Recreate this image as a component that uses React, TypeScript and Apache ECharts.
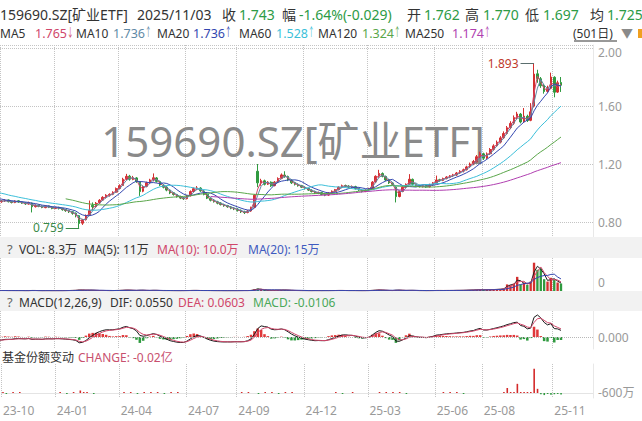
import React, { useEffect, useRef } from 'react';
import * as echarts from 'echarts';

// ---------- DATA (each candle = about 3 trading days), [open, close, low, high] ----------
const preCandles: number[][] = [
  [1.050, 1.060, 1.045, 1.068], [1.061, 1.050, 1.044, 1.066], [1.051, 1.070, 1.046, 1.076], [1.069, 1.040, 1.034, 1.074],
  [1.041, 1.030, 1.024, 1.046], [1.031, 1.050, 1.026, 1.056], [1.049, 1.020, 1.014, 1.054], [1.021, 1.010, 1.004, 1.026],
  [1.011, 1.030, 1.006, 1.036], [1.029, 1.000, 0.994, 1.034], [1.001, 0.990, 0.984, 1.006], [0.991, 1.010, 0.986, 1.016],
  [1.009, 0.980, 0.974, 1.014], [0.981, 0.970, 0.964, 0.986], [0.971, 0.990, 0.966, 0.996], [0.989, 0.960, 0.954, 0.994],
  [0.961, 0.950, 0.944, 0.966], [0.951, 0.970, 0.946, 0.976], [0.969, 0.950, 0.944, 0.974], [0.951, 0.940, 0.934, 0.956],
];

const candles: number[][] = [
  [0.940, 0.945, 0.932, 0.952], [0.946, 0.950, 0.938, 0.958], [0.952, 0.940, 0.935, 0.955], [0.941, 0.935, 0.928, 0.946],
  [0.934, 0.945, 0.930, 0.950], [0.946, 0.938, 0.932, 0.950], [0.937, 0.930, 0.925, 0.942], [0.931, 0.925, 0.918, 0.936],
  [0.924, 0.932, 0.920, 0.940], [0.930, 0.905, 0.866, 0.934], [0.906, 0.915, 0.900, 0.922], [0.916, 0.908, 0.902, 0.920],
  [0.909, 0.900, 0.895, 0.914], [0.899, 0.910, 0.895, 0.915], [0.911, 0.902, 0.896, 0.914], [0.903, 0.895, 0.888, 0.907],
  [0.894, 0.900, 0.889, 0.906], [0.901, 0.893, 0.886, 0.905], [0.894, 0.885, 0.878, 0.898], [0.886, 0.878, 0.870, 0.890],
  [0.879, 0.870, 0.862, 0.884], [0.871, 0.860, 0.850, 0.876], [0.861, 0.845, 0.832, 0.866], [0.844, 0.790, 0.759, 0.848],
  [0.792, 0.815, 0.780, 0.822], [0.816, 0.845, 0.810, 0.852], [0.850, 0.880, 0.842, 0.948], [0.915, 0.905, 0.880, 0.935],
  [0.906, 0.930, 0.900, 0.938], [0.931, 0.950, 0.925, 0.958], [0.951, 0.970, 0.945, 0.978], [0.971, 0.985, 0.962, 0.992],
  [0.986, 0.990, 0.975, 0.998], [0.991, 1.005, 0.985, 1.012], [1.006, 1.030, 1.000, 1.038], [1.031, 1.050, 1.025, 1.060],
  [1.052, 1.095, 1.048, 1.105], [1.096, 1.115, 1.088, 1.132], [1.116, 1.095, 1.085, 1.125], [1.094, 1.105, 1.088, 1.118],
  [1.104, 1.080, 1.070, 1.110], [1.078, 1.010, 0.980, 1.082], [1.012, 1.045, 1.005, 1.052], [1.046, 1.070, 1.040, 1.078],
  [1.071, 1.090, 1.062, 1.098], [1.091, 1.105, 1.080, 1.135], [1.104, 1.080, 1.072, 1.110], [1.079, 1.055, 1.048, 1.084],
  [1.054, 1.040, 1.032, 1.060], [1.041, 1.020, 1.012, 1.046], [1.019, 1.000, 0.992, 1.025], [1.001, 0.990, 0.982, 1.006],
  [0.989, 0.975, 0.968, 0.994], [0.976, 0.965, 0.958, 0.982], [0.964, 0.960, 0.952, 0.972], [0.961, 0.980, 0.956, 0.986],
  [0.981, 1.010, 0.976, 1.018], [1.011, 1.030, 1.004, 1.038], [1.031, 1.035, 1.022, 1.048], [1.034, 1.015, 1.008, 1.040],
  [1.014, 0.990, 0.984, 1.020], [0.991, 0.965, 0.958, 0.996], [0.964, 0.950, 0.942, 0.970], [0.951, 0.940, 0.934, 0.958],
  [0.939, 0.930, 0.922, 0.946], [0.931, 0.920, 0.914, 0.936], [0.919, 0.912, 0.905, 0.926], [0.913, 0.905, 0.898, 0.918],
  [0.904, 0.895, 0.888, 0.910], [0.896, 0.890, 0.882, 0.902], [0.889, 0.880, 0.872, 0.895], [0.881, 0.870, 0.862, 0.886],
  [0.869, 0.865, 0.855, 0.878], [0.866, 0.875, 0.860, 0.882], [0.876, 0.900, 0.870, 0.906], [0.902, 0.985, 0.898, 0.992],
  [1.150, 1.070, 1.040, 1.200], [1.068, 1.085, 1.050, 1.098], [1.084, 1.060, 1.052, 1.092], [1.061, 1.075, 1.055, 1.082],
  [1.074, 1.050, 1.042, 1.080], [1.051, 1.075, 1.046, 1.082], [1.076, 1.100, 1.070, 1.108], [1.101, 1.125, 1.095, 1.135],
  [1.124, 1.115, 1.105, 1.150], [1.114, 1.090, 1.082, 1.120], [1.089, 1.070, 1.062, 1.094], [1.071, 1.060, 1.052, 1.076],
  [1.059, 1.050, 1.044, 1.066], [1.051, 1.040, 1.034, 1.056], [1.039, 1.030, 1.024, 1.046], [1.031, 1.020, 1.014, 1.036],
  [1.019, 1.010, 1.004, 1.026], [1.011, 1.000, 0.993, 1.016], [0.999, 1.002, 0.992, 1.010], [1.003, 0.990, 0.984, 1.008],
  [0.989, 0.985, 0.978, 0.996], [0.986, 1.000, 0.980, 1.006], [1.001, 1.012, 0.996, 1.018], [1.011, 1.022, 1.005, 1.028],
  [1.023, 1.040, 1.018, 1.046], [1.041, 1.050, 1.034, 1.058], [1.051, 1.048, 1.040, 1.058], [1.047, 1.040, 1.034, 1.054],
  [1.041, 1.045, 1.035, 1.052], [1.044, 1.030, 1.024, 1.050], [1.031, 1.020, 1.014, 1.036], [1.019, 1.010, 1.004, 1.026],
  [1.011, 1.020, 1.006, 1.026], [1.021, 1.030, 1.015, 1.036], [1.031, 1.075, 1.026, 1.082], [1.076, 1.115, 1.070, 1.122],
  [1.116, 1.135, 1.105, 1.160], [1.134, 1.115, 1.108, 1.142], [1.114, 1.090, 1.082, 1.120], [1.091, 1.070, 1.062, 1.096],
  [1.069, 1.060, 1.052, 1.076], [1.040, 0.975, 0.935, 1.045], [0.976, 1.010, 0.970, 1.016], [1.011, 1.040, 1.006, 1.046],
  [1.041, 1.060, 1.035, 1.066], [1.061, 1.095, 1.056, 1.130], [1.094, 1.060, 1.052, 1.100], [1.059, 1.050, 1.044, 1.066],
  [1.051, 1.045, 1.038, 1.058], [1.044, 1.050, 1.038, 1.056], [1.051, 1.042, 1.036, 1.056], [1.043, 1.058, 1.038, 1.064],
  [1.057, 1.070, 1.050, 1.076], [1.071, 1.090, 1.065, 1.120], [1.091, 1.088, 1.078, 1.098], [1.087, 1.100, 1.082, 1.106],
  [1.101, 1.110, 1.094, 1.116], [1.109, 1.118, 1.102, 1.124], [1.119, 1.125, 1.110, 1.132], [1.124, 1.138, 1.118, 1.145],
  [1.139, 1.150, 1.132, 1.158], [1.151, 1.160, 1.142, 1.168], [1.161, 1.180, 1.155, 1.188], [1.181, 1.200, 1.172, 1.210],
  [1.201, 1.215, 1.192, 1.228], [1.216, 1.250, 1.210, 1.262], [1.251, 1.272, 1.240, 1.285], [1.270, 1.240, 1.228, 1.278],
  [1.241, 1.270, 1.235, 1.280], [1.271, 1.300, 1.262, 1.310], [1.301, 1.325, 1.292, 1.336], [1.326, 1.350, 1.318, 1.362],
  [1.351, 1.380, 1.342, 1.392], [1.381, 1.410, 1.372, 1.425], [1.411, 1.450, 1.402, 1.462], [1.451, 1.480, 1.440, 1.495],
  [1.481, 1.520, 1.470, 1.535], [1.521, 1.545, 1.508, 1.560], [1.544, 1.490, 1.480, 1.552], [1.491, 1.530, 1.484, 1.586],
  [1.529, 1.500, 1.490, 1.540], [1.501, 1.560, 1.495, 1.620], [1.600, 1.820, 1.590, 1.893], [1.822, 1.790, 1.760, 1.850],
  [1.788, 1.740, 1.725, 1.800], [1.741, 1.700, 1.685, 1.752], [1.701, 1.720, 1.692, 1.740], [1.722, 1.800, 1.715, 1.830],
  [1.798, 1.695, 1.660, 1.805], [1.696, 1.760, 1.690, 1.775], [1.762, 1.743, 1.697, 1.800],
];

const preVolumes: number[] = [1.2, 1.0, 1.1, 0.9, 0.8, 1.0, 0.9, 0.8, 1.0, 0.9, 0.8, 0.9, 1.0, 0.8, 0.9, 1.0, 0.9, 0.8, 1.0, 0.9];

// volume in 万
const volumes: number[] = [
  1.2, 0.9, 0.8, 1.0, 0.7, 0.9, 0.8, 0.6, 0.9, 1.4, 0.8, 0.7, 0.6, 0.8, 0.7, 0.6, 0.9, 0.7, 0.8, 1.0,
  1.1, 1.3, 1.6, 2.4, 1.9, 1.5, 2.0, 1.4, 1.1, 1.0, 1.2, 0.9, 0.8, 1.0, 1.3, 1.2, 1.8, 2.1, 1.5, 1.2,
  1.1, 1.9, 1.3, 1.0, 1.2, 1.6, 1.1, 0.9, 0.8, 0.9, 0.8, 0.7, 0.8, 0.7, 0.9, 1.0, 1.2, 1.3, 1.1, 0.9,
  1.0, 0.9, 0.8, 0.7, 0.8, 0.7, 0.6, 0.7, 0.8, 0.7, 0.8, 0.9, 1.0, 0.9, 1.4, 3.5, 5.0, 2.6, 1.8, 1.5,
  1.4, 1.6, 1.8, 2.2, 2.0, 1.5, 1.2, 1.0, 0.9, 0.8, 0.8, 0.7, 0.8, 0.9, 0.7, 0.8, 0.9, 0.8, 1.0, 1.1,
  1.2, 1.1, 0.9, 0.8, 0.9, 0.8, 0.7, 0.8, 0.9, 1.0, 1.6, 2.0, 2.4, 1.6, 1.2, 1.0, 0.9, 2.2, 1.6, 1.2,
  1.1, 1.5, 1.2, 0.9, 0.8, 0.8, 0.7, 0.9, 1.0, 1.3, 1.0, 1.1, 1.2, 1.1, 1.2, 1.4, 1.3, 1.5, 1.8, 2.0,
  2.2, 2.6, 2.8, 2.4, 2.6, 3.0, 3.2, 3.6, 4.0, 5.0,
  14, 12, 16, 30, 14, 18, 13, 20, 60, 45, 48, 25, 20, 28, 24, 18, 16,
];

// fund share change in 万: [candle index, value]
const fundChanges: [number, number][] = [
  [0, 30], [1, -20], [3, 25], [5, 20],
  [17, 30], [19, -25], [21, 40], [23, 300], [24, 60], [25, 40], [27, -30],
  [36, 30], [38, 25], [40, -20], [42, 30], [44, 25], [46, 30], [48, -25], [50, 30], [52, 20],
  [71, 30], [73, 40], [76, -40], [78, 30], [80, 25], [82, -20], [84, 30], [86, 25],
  [99, 30], [101, -25], [104, 30],
  [112, 30], [114, 25], [116, 40], [118, 30], [120, -25],
  [131, 30], [133, 25], [135, 30], [137, -20],
  [149, 50], [150, 600], [151, 80], [152, 60], [153, 1100], [154, 50], [155, 100], [156, 60], [157, 80],
  [158, 2900], [159, 500], [160, -150], [161, -250], [162, -100], [163, -200], [164, -150], [165, -120], [166, -180],
];

const monthTicks: [number, string][] = [
  [0, '23-10'], [16, '24-01'], [35, '24-04'], [55, '24-07'], [70, '24-09'],
  [90, '24-12'], [109, '25-03'], [129, '25-06'], [143, '25-08'], [164, '25-11'],
];

const maDays = [5, 10, 20, 60, 120, 250];
const maColors = ['#d0476a', '#5f8aa6', '#3347b0', '#3cbfd9', '#5aa64a', '#b03fb0'];
const DAYS_PER_CANDLE = 3;

const headerLine1: [number, string, string][] = [
  [0, '159690.SZ[矿业ETF]', '#333'], [137, '2025/11/03', '#333'], [222, '收', '#333'], [239, '1.743', '#2d9b46'],
  [282, '幅', '#333'], [299, '-1.64%(-0.029)', '#2d9b46'], [407, '开', '#333'], [424, '1.762', '#2d9b46'],
  [465, '高', '#333'], [483, '1.770', '#2d9b46'], [525, '低', '#333'], [543, '1.697', '#2d9b46'],
  [590, '均', '#333'], [607, '1.725', '#2d9b46'],
];
const maLegend: [number, string, number, string, string][] = [
  [0, 'MA5', 35, '1.765', '↓'], [76, 'MA10', 113, '1.736', '↑'], [157, 'MA20', 193, '1.736', '↑'],
  [239, 'MA60', 276, '1.528', '↑'], [318, 'MA120', 362, '1.324', '↑'], [405, 'MA250', 452, '1.174', '↑'],
];
const volHeader: [number, string, string][] = [
  [19, 'VOL: 8.3万', '#333'], [84, 'MA(5): 11万', '#333'], [157, 'MA(10): 10.0万', '#d0476a'], [248, 'MA(20): 15万', '#3f5bbf'],
];
const macdHeader: [number, string, string][] = [
  [19, 'MACD(12,26,9)', '#333'], [110, 'DIF: 0.0550', '#333'], [178, 'DEA: 0.0603', '#d0476a'], [253, 'MACD: -0.0106', '#4aa85a'],
];
const fundHeader: [number, string, string][] = [
  [2, '基金份额变动', '#333'], [78, 'CHANGE: -0.02亿', '#c8506e'],
];

// ---------- derived ----------
const FONT = '"Noto Sans", "Noto Sans CJK SC", sans-serif';
const UP = '#d42f2f';
const DOWN = '#2f9a3f';
const PRE = preCandles.length;
const allCandles = [...preCandles, ...candles];
const allVolumes = [...preVolumes, ...volumes];
const PAD = 9;
const cats = allCandles.map((_, i) => String(i));
for (let i = 0; i < PAD; i++) cats.push(String(allCandles.length + i));
const closes = allCandles.map((c) => c[1]);
const tickSet = new Set(monthTicks.map(([i]) => i + PRE));
const tickLabel = new Map(monthTicks.map(([i, l]) => [i + PRE, l]));

function movingAvg(vals: number[], n: number) {
  let sum = 0;
  return vals.map((v, i) => {
    sum += v;
    if (i >= n) sum -= vals[i - n];
    return i < n - 1 ? '-' : +(sum / n).toFixed(4);
  });
}
function ema(vals: number[], n: number) {
  const k = 2 / (n + 1);
  let prev = vals[0];
  return vals.map((v, i) => (prev = i === 0 ? v : prev + k * (v - prev)));
}
const fast = ema(closes, Math.round(12 / DAYS_PER_CANDLE));
const slow = ema(closes, Math.round(26 / DAYS_PER_CANDLE));
const dif = fast.map((f, i) => f - slow[i]);
const dea = ema(dif, Math.round(9 / DAYS_PER_CANDLE));
const hist = dif.map((d, i) => 2 * (d - dea[i]));
const difMax = Math.max(...dif.slice(PRE), ...hist.slice(PRE));
const macdUnit = difMax / 22;

const fundFull: (number | null)[] = allCandles.map(() => null);
fundChanges.forEach(([i, v]) => (fundFull[i + PRE] = v));

let hiIdx = 0, loIdx = 0;
candles.forEach((c, i) => {
  if (c[3] > candles[hiIdx][3]) hiIdx = i;
  if (c[2] < candles[loIdx][2]) loIdx = i;
});
const hiVal = candles[hiIdx][3];
const loVal = candles[loIdx][2];

const grids = [
  { left: 0, right: 49, top: 45, height: 192 },
  { left: 0, right: 49, top: 258, height: 33 },
  { left: 0, right: 49, top: 311, height: 38 },
  { left: 0, right: 49, top: 364, height: 34 },
];

const xAxisFor = (g: number) => ({
  type: 'category',
  gridIndex: g,
  data: cats,
  boundaryGap: true,
  min: PRE,
  max: cats.length - 1,
  axisLine: { show: g === 3, lineStyle: { color: '#e4e4e4' } },
  axisTick: { show: false },
  axisLabel: {
    show: g === 3,
    interval: (i: number) => tickSet.has(i),
    formatter: (v: string) => tickLabel.get(Number(v)) || '',
    align: 'left',
    color: '#999',
    fontSize: 12,
    fontFamily: FONT,
    margin: 6,
  },
  splitLine: {
    show: true,
    interval: (i: number) => tickSet.has(i),
    lineStyle: { type: 'dotted', color: '#c4c4c4', width: 1 },
  },
});

const yLabelBase = { color: '#999', fontSize: 12, fontFamily: FONT, margin: 5, align: 'left' };

function buildText(x: number, y: number, text: string, fill: string, size: number, extra: any = {}) {
  return {
    type: 'text',
    x,
    y,
    z: 10,
    silent: true,
    ...extra,
    style: { text, fill, fontSize: size, fontFamily: FONT, align: 'left', verticalAlign: 'middle', textAlign: 'left', textVerticalAlign: 'middle' },
  };
}

const option: any = {
  animation: false,
  backgroundColor: '#fff',
  grid: grids,
  xAxis: [0, 1, 2, 3].map(xAxisFor),
  yAxis: [
    {
      type: 'value', gridIndex: 0, position: 'right',
      min: 0.6966, max: 2.0207,
      minInterval: 0.4, maxInterval: 0.4, splitNumber: 3,
      axisLine: { show: true, lineStyle: { color: '#e8e8e8' } },
      axisTick: { show: false },
      axisLabel: {
        ...yLabelBase, showMinLabel: false, showMaxLabel: false,
        formatter: (v: number) => (Math.abs(v - 2) < 1e-6 ? '{t|2.00}' : v.toFixed(2)),
        rich: { t: { padding: [9, 0, 0, 0], color: '#999', fontSize: 12, fontFamily: FONT } },
      },
      splitLine: { show: true, lineStyle: { type: 'dotted', color: '#c4c4c4' } },
    },
    {
      type: 'value', gridIndex: 1, position: 'right', min: 0, max: 70, interval: 70,
      axisLine: { show: true, lineStyle: { color: '#e8e8e8' } }, axisTick: { show: false },
      axisLabel: { ...yLabelBase, showMinLabel: true, verticalAlign: 'bottom', padding: [0, 0, 3, 0], formatter: (v: number) => (v === 0 ? '0' : '') },
      splitLine: { show: false },
    },
    {
      type: 'value', gridIndex: 2, position: 'right', min: -12 * macdUnit, max: 26 * macdUnit, interval: 2 * macdUnit,
      axisLine: { show: true, lineStyle: { color: '#e8e8e8' } }, axisTick: { show: false },
      axisLabel: { ...yLabelBase, showMinLabel: false, showMaxLabel: false, formatter: (v: number) => (Math.abs(v) < macdUnit / 4 ? '0.000' : '') },
      splitLine: { show: false },
    },
    {
      type: 'value', gridIndex: 3, position: 'right', min: -600, max: 3480, interval: 600,
      axisLine: { show: true, lineStyle: { color: '#e8e8e8' } }, axisTick: { show: false },
      axisLabel: { ...yLabelBase, showMinLabel: true, showMaxLabel: false, verticalAlign: 'bottom', formatter: (v: number) => (v === -600 ? '-600万' : '') },
      splitLine: { show: false },
    },
  ],
  series: [
    {
      type: 'candlestick',
      xAxisIndex: 0,
      yAxisIndex: 0,
      data: allCandles,
      barWidth: '62%',
      clip: true,
      itemStyle: { color: UP, color0: DOWN, borderColor: UP, borderColor0: DOWN, borderWidth: 1 },
      markLine: {
        silent: true,
        symbol: ['none', 'none'],
        animation: false,
        data: [
          [
            { coord: [PRE + hiIdx - 4, hiVal], lineStyle: { color: '#5b6e6e', width: 1, type: 'solid' },
              label: { show: true, position: 'start', distance: 2, formatter: () => hiVal.toFixed(3), color: '#c0392b', fontSize: 12, fontFamily: FONT } },
            { coord: [PRE + hiIdx, hiVal] },
          ],
          [
            { coord: [PRE + loIdx - 4, loVal], lineStyle: { color: '#3a8a4a', width: 1, type: 'solid' },
              label: { show: true, position: 'start', distance: 2, formatter: () => loVal.toFixed(3), color: '#3a8a4a', fontSize: 12, fontFamily: FONT } },
            { coord: [PRE + loIdx, loVal] },
          ],
        ],
      },
    },
    ...maDays.map((d, k) => ({
      type: 'line',
      xAxisIndex: 0,
      yAxisIndex: 0,
      data: movingAvg(closes, Math.max(2, Math.round(d / DAYS_PER_CANDLE))),
      showSymbol: false,
      symbol: 'none',
      clip: true,
      lineStyle: { width: 1, color: maColors[k] },
      z: 3,
    })),
    {
      type: 'bar',
      xAxisIndex: 1,
      yAxisIndex: 1,
      barWidth: '70%',
      clip: true,
      data: allVolumes.map((v, i) => ({
        value: v,
        itemStyle: { color: allCandles[i][1] >= allCandles[i][0] ? UP : DOWN },
      })),
    },
    ...[
      [2, '#222'],
      [3, '#d0476a'],
      [7, '#3347b0'],
    ].map(([n, c]) => ({
      type: 'line',
      xAxisIndex: 1,
      yAxisIndex: 1,
      data: movingAvg(allVolumes, n as number),
      showSymbol: false,
      symbol: 'none',
      clip: true,
      lineStyle: { width: 1, color: c as string },
    })),
    {
      type: 'bar',
      xAxisIndex: 2,
      yAxisIndex: 2,
      barWidth: '75%',
      clip: true,
      data: hist.map((v) => ({ value: +v.toFixed(5), itemStyle: { color: v >= 0 ? '#e0383a' : '#2f9a3f' } })),
      markLine: {
        silent: true,
        symbol: ['none', 'none'],
        label: { show: false },
        lineStyle: { type: 'dotted', color: '#b8b8b8', width: 1 },
        data: [{ yAxis: 0 }],
      },
    },
    {
      type: 'line', xAxisIndex: 2, yAxisIndex: 2, showSymbol: false, symbol: 'none', clip: true,
      data: dif.map((v) => +v.toFixed(5)), lineStyle: { width: 1, color: '#1a1a1a' },
    },
    {
      type: 'line', xAxisIndex: 2, yAxisIndex: 2, showSymbol: false, symbol: 'none', clip: true,
      data: dea.map((v) => +v.toFixed(5)), lineStyle: { width: 1, color: '#d0476a' },
    },
    {
      type: 'bar',
      xAxisIndex: 3,
      yAxisIndex: 3,
      barWidth: 1.6,
      barMinHeight: 1,
      clip: true,
      data: fundFull.map((v) => (v == null ? null : { value: v, itemStyle: { color: v >= 0 ? '#d42a2a' : '#2f9a3f' } })),
    },
  ],
  graphic: [
    { type: 'rect', z: 1, silent: true, shape: { x: 0, y: 237, width: 642, height: 21 }, style: { fill: '#f2f2f2' } },
    { type: 'rect', z: 1, silent: true, shape: { x: 0, y: 291, width: 642, height: 20 }, style: { fill: '#f2f2f2' } },
    {
      type: 'text', x: 293, y: 140, z: 1, silent: true,
      style: { text: '159690.SZ[矿业ETF]', fill: '#8a8a8a', fontSize: 42, fontFamily: FONT, align: 'center', verticalAlign: 'middle', textAlign: 'center', textVerticalAlign: 'middle' },
    },
    ...headerLine1.map(([x, t, c]) => buildText(x, 14, t, c, 14)),
    ...maLegend.flatMap(([lx, label, vx, val, arrow], k) => [
      buildText(lx, 33, label, '#333', 12),
      buildText(vx, 33, val, maColors[k], 12.5),
      buildText(vx + 32, 33, arrow, maColors[k], 12, { scaleX: 0.55 }),
    ]),
    buildText(573, 33, '(501日)', '#333', 12),
    { type: 'line', z: 10, silent: true, shape: { x1: 574, y1: 41, x2: 617, y2: 41 }, style: { stroke: '#333', lineWidth: 1 } },
    buildText(621, 33, '▼', '#8a8a8a', 12),
    { type: 'rect', z: 10, silent: true, shape: { x: 638, y: 29, width: 6, height: 9 }, style: { fill: '#f0a020' } },
    buildText(7, 249, '?', '#666', 13),
    ...volHeader.map(([x, t, c]) => buildText(x, 249, t, c, 12)),
    buildText(7, 302, '?', '#666', 13),
    ...macdHeader.map(([x, t, c]) => buildText(x, 302, t, c, 12)),
    ...fundHeader.map(([x, t, c]) => buildText(x, 357, t, c, 12)),
  ],
};

export default function App() {
  const ref = useRef<HTMLDivElement>(null);
  useEffect(() => {
    const chart = echarts.init(ref.current!, null, { renderer: 'svg' });
    chart.setOption(option);
    return () => chart.dispose();
  }, []);
  return (
    <div
      ref={ref}
      style={{ position: 'fixed', left: 0, top: 0, width: 642, height: 421, background: '#fff' }}
    />
  );
}
